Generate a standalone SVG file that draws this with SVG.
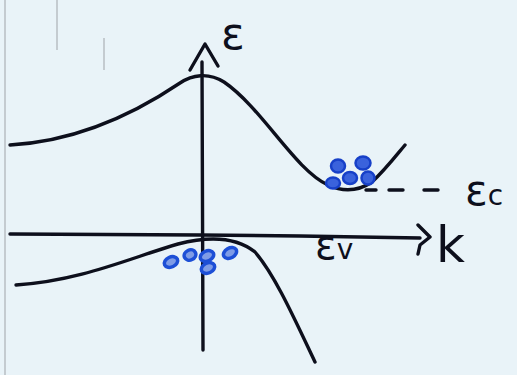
<svg xmlns="http://www.w3.org/2000/svg" width="517" height="375" viewBox="0 0 517 375">
<style>
.ln{fill:none;stroke:#0d0f1c;stroke-width:3.4;stroke-linecap:round;stroke-linejoin:round}
.e{fill:#3a62dc;stroke:#1740c8;stroke-width:2.5}
.r{fill:#7f9ce6;stroke:#1d4fd6;stroke-width:3.5}
.lab{font-family:"DejaVu Sans",sans-serif;fill:#0d0f1c}
.faint{stroke:#c4cbd0;stroke-width:2;fill:none}
</style>
<rect width="517" height="375" fill="#e9f3f8"/>
<path class="faint" d="M5 0V375M57 0V50M104 38V70"/>
<g id="axes">
<path class="ln" d="M10 234 L200 235 L300 236 L420 238"/>
<path class="ln" d="M418 225 L430 237 L420 245 L418 254"/>
<path class="ln" d="M203 350 L202 62"/>
<path class="ln" d="M190 70 L205 44 L218 66"/>
</g>
<g id="bands">
<path class="ln" d="M10 145 C80 141 140 110 180 83 C192 75 208 72 224 82 C262 108 295 170 328 185 C345 193 360 190 372 182 C385 170 395 157 405 145"/>
<path class="ln" d="M16 285 C80 281 130 258 178 244 C205 237 235 236 255 252 C275 275 295 320 315 362"/>
<path class="ln" d="M366 190 H376 M389 190 H403 M424 190 H438" />
</g>
<g id="electrons">
<ellipse class="e" cx="338" cy="166" rx="7" ry="6.5"/>
<ellipse class="e" cx="363" cy="163" rx="7.5" ry="6.5"/>
<ellipse class="e" cx="350" cy="178" rx="7" ry="6"/>
<ellipse class="e" cx="368" cy="178" rx="6.5" ry="6.5"/>
<ellipse class="e" cx="333" cy="183" rx="7" ry="5.5"/>
<ellipse class="r" cx="171" cy="262" rx="7" ry="5" transform="rotate(-25 171 262)"/>
<ellipse class="r" cx="190" cy="255" rx="6" ry="5" transform="rotate(-25 190 255)"/>
<ellipse class="r" cx="207" cy="256" rx="7" ry="5" transform="rotate(-25 207 256)"/>
<ellipse class="r" cx="208" cy="268" rx="7" ry="5" transform="rotate(-25 208 268)"/>
<ellipse class="r" cx="230" cy="253" rx="7" ry="5" transform="rotate(-30 230 253)"/>
</g>
<g id="labels">
<text class="lab" x="221" y="49" font-size="44">ε</text>
<text class="lab" x="465" y="205" font-size="42">ε<tspan font-size="28">c</tspan></text>
<text class="lab" x="315" y="259" font-size="40">ε<tspan font-size="28">v</tspan></text>
<text class="lab" x="436" y="262" font-size="50">k</text>
</g>
</svg>
